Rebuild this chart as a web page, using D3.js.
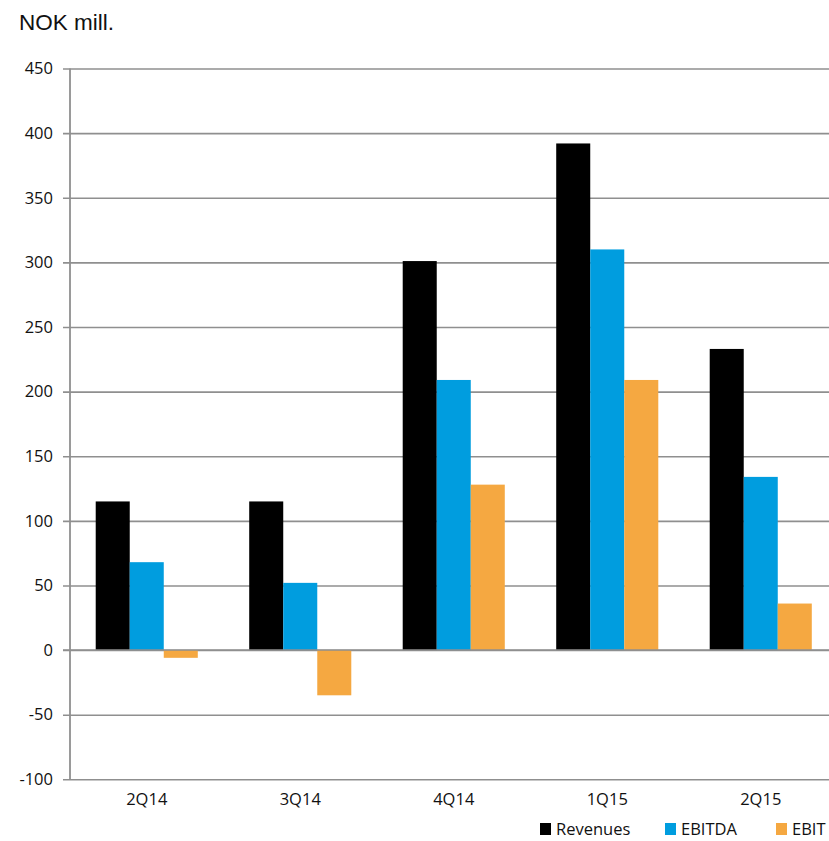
<!DOCTYPE html>
<html><head><meta charset="utf-8">
<script src="https://cdn.jsdelivr.net/npm/d3@7"></script>
<style>body{margin:0;background:#fff;}text{font-family:"Open Sans","Liberation Sans",Arial,sans-serif;}</style>
</head><body>
<script>
const categories = ["2Q14","3Q14","4Q14","1Q15","2Q15"];
const seriesNames = ["Revenues","EBITDA","EBIT"];
const revenues = [115, 115, 301, 392, 233];
const ebitda = [68, 52, 209, 310, 134];
const ebit = [-6, -35, 128, 209, 36];
const yTicks = [-100,-50,0,50,100,150,200,250,300,350,400,450];
const colors = ["#000000","#009ddf","#f5a841"];

const W = 829, H = 841;
const svg = d3.select("body").append("svg").attr("width", W).attr("height", H);
const x0 = d3.scaleBand().domain(categories).range([70, 837.5]).paddingInner(0.335).paddingOuter(0.1675);
const x1 = d3.scaleBand().domain(seriesNames).range([0, x0.bandwidth()]);
const y = d3.scaleLinear().domain([-100, 450]).range([779.3, 68.5]);
const color = d3.scaleOrdinal().domain(seriesNames).range(colors);

svg.append("text").attr("x", 19).attr("y", 30).attr("font-size", 22.5).attr("fill", "#111")
  .style("font-family", "'Liberation Sans', Arial, sans-serif").text("NOK mill.");

// gridlines
const yAxis = d3.axisLeft(y).tickValues(yTicks).tickSize(-(W - 70)).tickPadding(13).tickFormat(d => String(d));
const ga = svg.append("g").attr("transform", "translate(70,0)").call(yAxis);
ga.select(".domain").remove();
ga.selectAll(".tick line").attr("stroke", "#8f8f8f").attr("stroke-width", 1.6).attr("x1", -7);
ga.selectAll(".tick text").attr("font-size", 16.5).attr("fill", "#111").attr("x", -17);

const data = categories.map((c, i) => ({cat: c, vals: [revenues[i], ebitda[i], ebit[i]]}));
const groups = svg.append("g").selectAll("g").data(data).join("g")
  .attr("transform", d => `translate(${x0(d.cat)},0)`);
groups.selectAll("rect").data(d => d.vals.map((v, j) => ({name: seriesNames[j], v})))
  .join("rect")
  .attr("x", d => x1(d.name)).attr("width", x1.bandwidth())
  .attr("y", d => y(Math.max(0, d.v))).attr("height", d => Math.abs(y(d.v) - y(0)))
  .attr("fill", d => color(d.name));

// zero line on top and y axis line
svg.append("line").attr("x1", 63).attr("x2", W).attr("y1", y(0)).attr("y2", y(0)).attr("stroke", "#8f8f8f").attr("stroke-width", 1.6);
svg.append("line").attr("x1", 70).attr("x2", 70).attr("y1", y(450)).attr("y2", y(-100)).attr("stroke", "#8f8f8f").attr("stroke-width", 1.8);

// x labels
const xa = svg.append("g").attr("transform", `translate(0,${y(-100)})`).call(d3.axisBottom(x0).tickSize(0).tickPadding(14));
xa.select(".domain").remove();
xa.selectAll(".tick text").attr("font-size", 16.5).attr("fill", "#111");

// legend
const legendX = [540, 665, 776];
const lg = svg.append("g").selectAll("g").data(seriesNames).join("g")
  .attr("transform", (d, i) => `translate(${legendX[i]},823)`);
lg.append("rect").attr("width", 11).attr("height", 12).attr("fill", d => color(d));
lg.append("text").attr("x", 16).attr("y", 12).attr("font-size", 16.5).attr("fill", "#111").text(d => d);
</script>
</body></html>
